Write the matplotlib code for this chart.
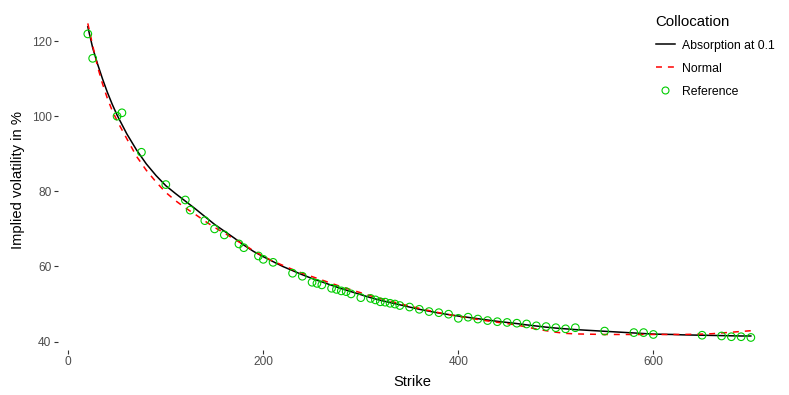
import matplotlib
matplotlib.use("Agg")
import matplotlib.pyplot as plt
from matplotlib.lines import Line2D

plt.rcParams['font.family'] = ['Liberation Sans', 'DejaVu Sans']

# Reference (market) points
ref_strikes = [20, 25, 50, 55, 75, 100, 120, 125, 140, 150, 160, 175, 180, 195, 200,
               210, 230, 240, 250, 255, 260, 270, 275, 280, 285, 290, 300, 310, 315,
               320, 325, 330, 335, 340, 350, 360, 370, 380, 390, 400, 410, 420, 430,
               440, 450, 460, 470, 480, 490, 500, 510, 520, 550, 580, 590, 600, 650,
               670, 680, 690, 700]

reference = [121.9, 115.4, 100.0, 100.9, 90.4, 81.8, 77.7, 75.0, 72.2, 70.0, 68.4,
             66.0, 65.0, 62.8, 61.9, 61.1, 58.2, 57.4, 55.8, 55.5, 55.1, 54.2, 53.9,
             53.5, 53.3, 52.7, 51.7, 51.5, 51.1, 50.6, 50.5, 50.2, 50.0, 49.6, 49.2,
             48.6, 48.0, 47.7, 47.3, 46.2, 46.5, 46.0, 45.6, 45.3, 45.1, 44.9, 44.7,
             44.2, 44.0, 43.7, 43.4, 43.7, 42.8, 42.4, 42.4, 41.9, 41.7, 41.5, 41.3,
             41.3, 41.1]

# Model curves, evaluated on a strike grid
curve_strikes = [20, 25, 30, 35, 40, 45, 50, 60, 70, 80, 90, 100, 110, 120, 130,
                 140, 150, 160, 170, 180, 190, 200, 210, 220, 230, 240, 250, 260,
                 270, 280, 290, 300, 310, 320, 330, 340, 350, 360, 370, 380, 390,
                 400, 410, 420, 430, 440, 450, 460, 470, 480, 490, 500, 510, 520,
                 530, 540, 550, 560, 570, 580, 590, 600, 610, 620, 630, 640, 650,
                 660, 670, 680, 690, 700]

absorption = [123.8, 118.2, 113.9, 110.0, 106.4, 103.2, 100.3, 95.3, 91.0, 87.3,
              84.2, 81.5, 79.4, 77.4, 75.4, 73.3, 71.2, 69.4, 67.6, 65.7, 64.0,
              62.6, 61.3, 60.0, 58.9, 57.8, 56.8, 55.9, 55.0, 54.1, 53.3, 52.5,
              51.7, 51.0, 50.4, 49.8, 49.2, 48.6, 48.1, 47.6, 47.2, 46.8, 46.45,
              46.1, 45.75, 45.4, 45.1, 44.8, 44.45, 44.15, 43.85, 43.6, 43.4, 43.2,
              43.05, 42.9, 42.75, 42.6, 42.45, 42.3, 42.15, 42.0, 41.95, 41.9, 41.8,
              41.75, 41.7, 41.65, 41.6, 41.55, 41.5, 41.5]

normal = [124.7, 118.8, 113.2, 108.7, 104.8, 101.5, 98.8, 94.0, 89.3, 85.6, 82.5,
          79.7, 77.5, 75.6, 73.9, 72.1, 70.4, 68.9, 67.3, 65.8, 64.2, 62.7, 61.4,
          60.3, 59.2, 58.2, 57.3, 56.4, 55.5, 54.6, 53.8, 53.0, 52.2, 51.5, 50.8,
          50.1, 49.45, 48.85, 48.25, 47.7, 47.2, 46.75, 46.3, 45.9, 45.5, 45.15,
          44.8, 44.4, 43.9, 43.35, 42.9, 42.5, 42.2, 42.05, 42.0, 41.95, 41.9, 41.9,
          41.9, 41.9, 41.9, 41.9, 41.9, 41.9, 41.9, 41.95, 42.0, 42.1, 42.3, 42.5,
          42.7, 42.9]

x_ticks = [0, 200, 400, 600]
y_ticks = [40, 60, 80, 100, 120]

W, H = 789, 395
fig = plt.figure(figsize=(W / 100, H / 100), dpi=100)
left_px, right_px, top_px, bottom_px = 57.7, 784.0, 11.0, 349.5
ax = fig.add_axes([left_px / W, 1 - bottom_px / H,
                   (right_px - left_px) / W, (bottom_px - top_px) / H])

ax.plot(curve_strikes, absorption, color='black', lw=1.1, solid_joinstyle='round',
        zorder=2)
ax.plot(curve_strikes, normal, color='#FF0000', lw=1.1, linestyle=(0, (3.9, 3.9)),
        zorder=3)
ax.scatter(ref_strikes, reference, s=30, facecolors='none', edgecolors='#00CD00',
           linewidths=0.8, zorder=4)

ax.set_xlim(-10.87, 734)
ax.set_ylim(37.9, 128.0)
ax.set_xticks(x_ticks)
ax.set_yticks(y_ticks)
for s in ax.spines.values():
    s.set_visible(False)
ax.tick_params(axis='both', length=3.0, width=0.8, color='#333333',
               labelcolor='#4D4D4D', labelsize=8.6, pad=1.5)
ax.set_xlabel('Strike', fontsize=10.6, color='black')
ax.set_ylabel('Implied volatility in %', fontsize=10.6, color='black')
ax.xaxis.set_label_coords((412 - left_px) / (right_px - left_px), -0.075)
ax.yaxis.set_label_coords(-0.045, 0.5)

handles = [Line2D([], [], color='black', lw=1.1),
           Line2D([], [], color='#FF0000', lw=1.1, linestyle=(0, (3.9, 3.9))),
           Line2D([], [], marker='o', linestyle='none', markerfacecolor='none',
                  markeredgecolor='#00CD00', markersize=5, markeredgewidth=0.8)]
labels = ['Absorption at 0.1', 'Normal', 'Reference']
leg = fig.legend(handles, labels, title='Collocation', loc='upper left',
                 bbox_to_anchor=(647 / W, 1 - 6 / H), frameon=False,
                 fontsize=8.8, title_fontsize=10.8, handlelength=1.55,
                 handletextpad=0.65, labelspacing=0.9, alignment='left',
                 borderpad=0.2)

fig.savefig('out.png', dpi=100)
